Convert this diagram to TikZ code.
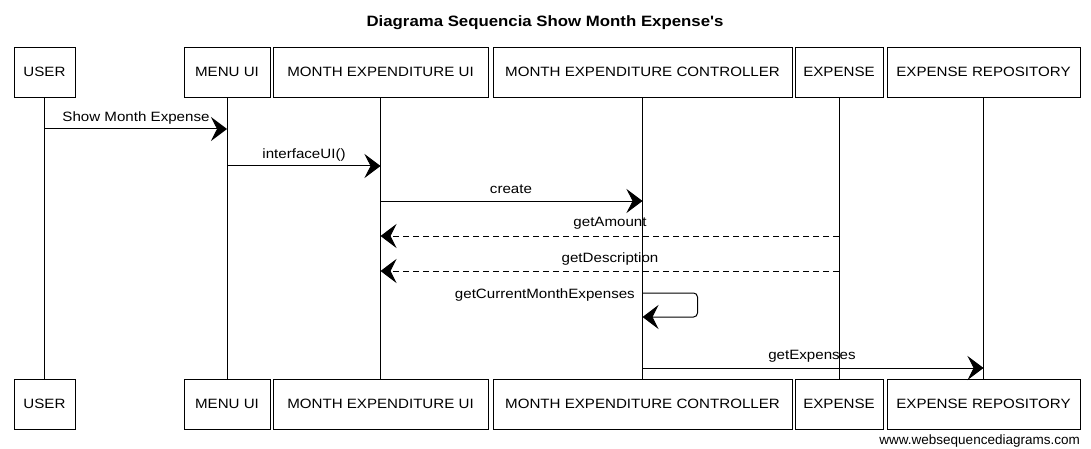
\documentclass[tikz,border=0pt]{standalone}
\usepackage{fontspec}
\setmainfont{Liberation Sans}
\newfontfamily\handfont[FakeStretch=1.12]{Liberation Sans}
\usetikzlibrary{arrows.meta}
\begin{document}
\begin{tikzpicture}[x=1pt,y=-1pt,
 actor/.style={draw, line width=0.9pt, minimum height=50pt, inner sep=0pt, font=\handfont\fontsize{13.5}{15}\selectfont},
 life/.style={line width=0.7pt},
 msg/.style={line width=1pt, -{Stealth[length=16pt,width=24pt,inset=6pt]}},
 ret/.style={msg, dash pattern=on 6pt off 4pt},
 lbl/.style={font=\handfont\fontsize{13.5}{15}\selectfont, inner sep=0pt},
]
\useasboundingbox (0,0) rectangle (1091,449);
\node[font=\handfont\bfseries\fontsize{15}{17}\selectfont] (title) at (545,23) {Diagrama Sequencia Show Month Expense's};
% top actors
\node[actor, minimum width=61pt] (userT) at (44.5,72) {USER};
\node[actor, minimum width=86pt] (menuT) at (227,72) {MENU UI};
\node[actor, minimum width=215pt] (meuT) at (380.5,72) {MONTH EXPENDITURE UI};
\node[actor, minimum width=299pt] (mecT) at (642.5,72) {MONTH EXPENDITURE CONTROLLER};
\node[actor, minimum width=88pt] (expT) at (839,72) {EXPENSE};
\node[actor, minimum width=193pt] (repT) at (983.5,72) {EXPENSE REPOSITORY};
% bottom actors
\node[actor, minimum width=61pt] (userB) at (44.5,404) {USER};
\node[actor, minimum width=86pt] (menuB) at (227,404) {MENU UI};
\node[actor, minimum width=215pt] (meuB) at (380.5,404) {MONTH EXPENDITURE UI};
\node[actor, minimum width=299pt] (mecB) at (642.5,404) {MONTH EXPENDITURE CONTROLLER};
\node[actor, minimum width=88pt] (expB) at (839,404) {EXPENSE};
\node[actor, minimum width=193pt] (repB) at (983.5,404) {EXPENSE REPOSITORY};
% lifelines
\foreach \a in {user,menu,meu,mec,exp,rep} {\draw[life] (\a T.south) -- (\a B.north);}
% messages
\draw[msg] (userT.south |- 0,129) -- (menuT.south |- 0,129);
\node[lbl] (l1) at (136,118) {Show Month Expense};
\draw[msg] (menuT.south |- 0,166) -- (meuT.south |- 0,166);
\node[lbl] (l2) at (304,155) {interfaceUI()};
\draw[msg] (meuT.south |- 0,201) -- (mecT.south |- 0,201);
\node[lbl] (l3) at (511,189) {create};
\draw[ret] (expT.south |- 0,236) -- (meuT.south |- 0,236);
\node[lbl] (l4) at (610,223) {getAmount};
\draw[ret] (expT.south |- 0,271) -- (meuT.south |- 0,271);
\node[lbl] (l5) at (610,259) {getDescription};
\draw[msg, rounded corners=4pt] (mecT.south |- 0,293) -- ++(55,0) -- ++(0,24) -- (mecT.south |- 0,317);
\node[lbl, anchor=east] (l6) at (635,295) {getCurrentMonthExpenses};
\draw[msg] (mecT.south |- 0,368) -- (repT.south |- 0,368);
\node[lbl] (l7) at (812,356) {getExpenses};
\node[font=\fontsize{13.5}{15}\selectfont, anchor=east, inner sep=0pt] (wm) at (1080,441) {www.websequencediagrams.com};
\end{tikzpicture}
\end{document}
